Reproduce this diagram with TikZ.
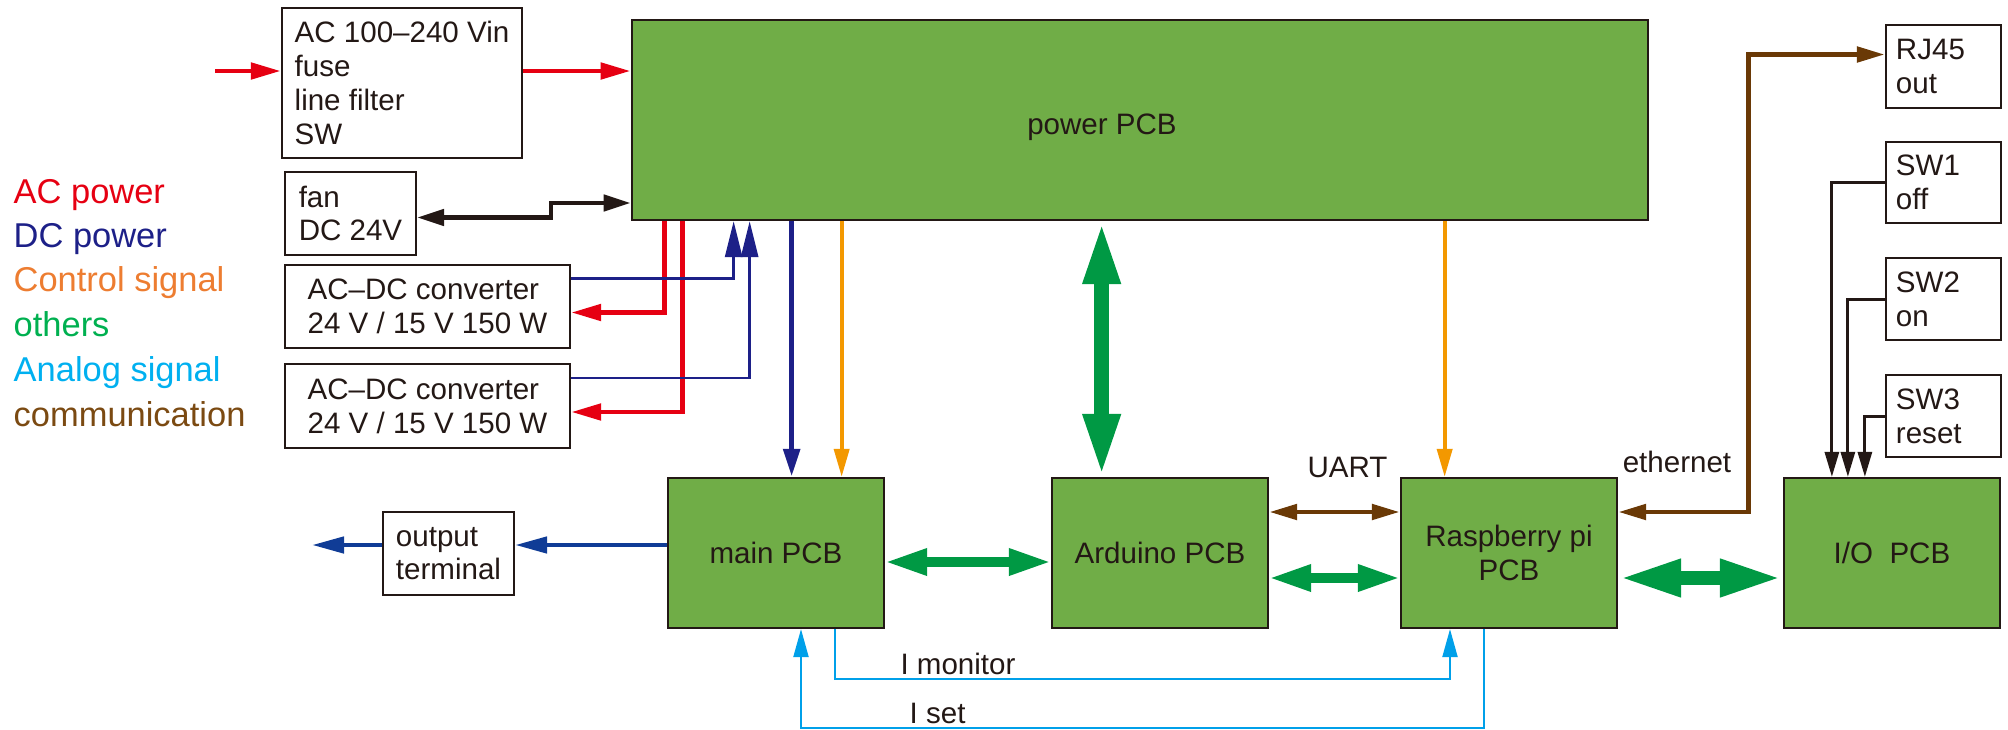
\documentclass[tikz,border=0pt]{standalone}
\usepackage{fontspec}
\setmainfont{Liberation Sans}
\usetikzlibrary{arrows.meta,positioning,calc}

\definecolor{acred}{HTML}{E60012}
\definecolor{dcblue}{HTML}{1D2088}
\definecolor{outblue}{HTML}{103C96}
\definecolor{ctrlorange}{HTML}{F39800}
\definecolor{othgreen}{HTML}{009944}
\definecolor{anacyan}{HTML}{00A0E9}
\definecolor{combrown}{HTML}{6A3906}
\definecolor{inkblack}{HTML}{231815}
\definecolor{pcbgreen}{HTML}{70AD47}
\definecolor{legorange}{HTML}{ED7D31}
\definecolor{leggreen}{HTML}{00B050}
\definecolor{legcyan}{HTML}{00B0F0}
\definecolor{legbrown}{HTML}{7B4A12}

\begin{document}
\begin{tikzpicture}[x=0.01cm, y=-0.01cm,
    every node/.style={text=inkblack, font=\fontsize{8.4}{9.6}\selectfont},
    box/.style={draw=inkblack, line width=0.6pt, fill=white, align=left, inner sep=0pt},
    pcb/.style={draw=inkblack, line width=0.6pt, fill=pcbgreen, align=center, minimum width=2.16cm, minimum height=1.5cm, inner sep=0pt},
    leg/.style={anchor=west, inner sep=0pt, text height=2.4mm, text depth=0.7mm, font=\fontsize{9.8}{11}\selectfont},
    lbl/.style={inner sep=1pt},
    acarr/.style={draw=acred, line width=1.4pt, -{Triangle[length=3mm, width=1.6mm]}},
    dcarr/.style={draw=dcblue, line width=0.8pt, -{Triangle[length=3.6mm, width=1.7mm]}},
    dcdown/.style={draw=dcblue, line width=1.6pt, -{Triangle[length=2.8mm, width=1.6mm]}},
    outarr/.style={draw=outblue, line width=1.3pt, -{Triangle[length=3.2mm, width=1.6mm]}},
    ctrlarr/.style={draw=ctrlorange, line width=1.1pt, -{Triangle[length=2.8mm, width=1.5mm]}},
    fanarr/.style={draw=inkblack, line width=1.3pt, {Triangle[length=2.7mm, width=1.6mm]}-{Triangle[length=2.7mm, width=1.6mm]}},
    swarr/.style={draw=inkblack, line width=0.85pt, -{Triangle[length=2.5mm, width=1.4mm]}},
    bigbus/.style={draw=othgreen, line width=4.2pt, {Triangle[length=6.3mm, width=3.4mm]}-{Triangle[length=6.3mm, width=3.4mm]}},
    bus/.style={draw=othgreen, line width=2.6pt, {Triangle[length=4.2mm, width=2.5mm]}-{Triangle[length=4.2mm, width=2.5mm]}},
    comarr/.style={draw=combrown, line width=1.4pt, {Triangle[length=2.8mm, width=1.5mm]}-{Triangle[length=2.8mm, width=1.5mm]}},
    anaarr/.style={draw=anacyan, line width=0.6pt, -{Triangle[length=2.8mm, width=1.5mm]}}
]
\useasboundingbox (0,0) rectangle (2008,730);

% legend
\node[leg, text=acred] (legac) at (13,195) {AC power};
\node[leg, text=dcblue] (legdc) at (13,239) {DC power};
\node[leg, text=legorange] (legctrl) at (13,283) {Control signal};
\node[leg, text=leggreen] (legoth) at (13,328) {others};
\node[leg, text=legcyan] (legana) at (13,373) {Analog signal};
\node[leg, text=legbrown] (legcom) at (13,418) {communication};

% boxes
\node[box, minimum width=2.40cm, minimum height=1.50cm] (acin) at (402,83) {AC 100–240 Vin\\fuse\\line filter\\SW};
\node[box, minimum width=1.31cm, minimum height=0.83cm] (fan) at (350.5,213.5) {fan\\DC 24V};
\node[box, minimum width=2.85cm, minimum height=0.83cm] (conv1) at (427.5,306.5) {AC–DC converter\\24 V / 15 V 150 W};
\node[box, minimum width=2.85cm, minimum height=0.84cm] (conv2) at (427.5,406) {AC–DC converter\\24 V / 15 V 150 W};
\node[box, minimum width=1.31cm, minimum height=0.83cm] (outterm) at (448.5,553.5) {output\\terminal};
\node[box, minimum width=1.15cm, minimum height=0.83cm, text width=0.95cm] (rj45) at (1943.5,66.5) {RJ45\\out};
\node[box, minimum width=1.15cm, minimum height=0.81cm, text width=0.95cm] (sw1) at (1943.5,182.5) {SW1\\off};
\node[box, minimum width=1.15cm, minimum height=0.82cm, text width=0.95cm] (sw2) at (1943.5,299) {SW2\\on};
\node[box, minimum width=1.15cm, minimum height=0.82cm, text width=0.95cm] (sw3) at (1943.5,416) {SW3\\reset};

% PCBs
\node[pcb, minimum width=10.16cm, minimum height=2.0cm] (power) at (1140,120) {};
\node[lbl] (powerlbl) at (1102,127) {power PCB};
\node[pcb] (mainpcb) at (776,553) {main PCB};
\node[pcb] (arduino) at (1160,553) {Arduino PCB};
\node[pcb] (rasp) at (1509,553) {Raspberry pi\\PCB};
\node[pcb] (io) at (1892,553) {I/O\ \ PCB};

\coordinate (acsrc) at (215,71);
\coordinate (outend) at (312,545);

% AC power
\draw[acarr] (acsrc) -- (acsrc -| acin.west);
\draw[acarr] (acin.east |- acsrc) -- (acsrc -| power.west);
\draw[acarr] ($(power.south west)+(34,0)$) |- ($(conv1.east)+(0,6)$);
\draw[acarr] ($(power.south west)+(52,0)$) |- ($(conv2.east)+(0,6)$);

% DC power
\draw[dcarr] ($(conv1.east)+(0,-28)$) -| ($(power.south west)+(103,0)$);
\draw[dcarr] ($(conv2.east)+(0,-28)$) -| ($(power.south west)+(119,0)$);
\draw[dcdown] ($(power.south west)+(161,0)$) coordinate (dctop) -- (dctop |- mainpcb.north);
\draw[outarr] (mainpcb.west |- outend) -- (outterm.east |- outend);
\draw[outarr] (outterm.west |- outend) -- (outend);

% fan
\draw[fanarr] ($(fan.east)+(0,4)$) -- ++(134,0) |- ($(power.west)+(0,83)$);

% control
\draw[ctrlarr] ($(power.south west)+(211,0)$) coordinate (ctrla) -- (ctrla |- mainpcb.north);
\draw[ctrlarr] ($(power.south west)+(814,0)$) coordinate (ctrlb) -- (ctrlb |- rasp.north);

% others
\draw[bigbus] ($(power.south west)+(471,0)$) coordinate (bustop) -- (bustop |- arduino.north);
\draw[bus] ($(mainpcb.east)+(0,9)$) -- ($(arduino.west)+(0,9)$);
\draw[bus] ($(arduino.east)+(0,25)$) -- ($(rasp.west)+(0,25)$);
\draw[bigbus] ($(rasp.east)+(0,25)$) -- ($(io.west)+(0,25)$);

% communication
\draw[comarr] ($(arduino.east)+(0,-41)$) -- node[lbl, yshift=0.44cm, xshift=0.13cm] {UART} ($(rasp.west)+(0,-41)$);
\draw[comarr] ($(rasp.east)+(0,-41)$) -| ($(rj45.west)+(-136,-12)$) -- ($(rj45.west)+(0,-12)$);
\node[lbl] (ethlbl) at (1677,462) {ethernet};

% switches
\draw[swarr] (sw1.west) -| ($(io.north west)+(49,0)$);
\draw[swarr] (sw2.west) -| ($(io.north west)+(65,0)$);
\draw[swarr] (sw3.west) -| ($(io.north west)+(82,0)$);

% analog
\draw[anaarr] ($(mainpcb.south)+(59,0)$) -- ++(0,50) -| node[lbl, pos=0.1, above] {I monitor} ($(rasp.south)+(-59,0)$);
\draw[anaarr] ($(rasp.south)+(-25,0)$) -- ++(0,99) -| node[lbl, pos=0.4, above] {I set} ($(mainpcb.south)+(25,0)$);
\end{tikzpicture}
\end{document}
